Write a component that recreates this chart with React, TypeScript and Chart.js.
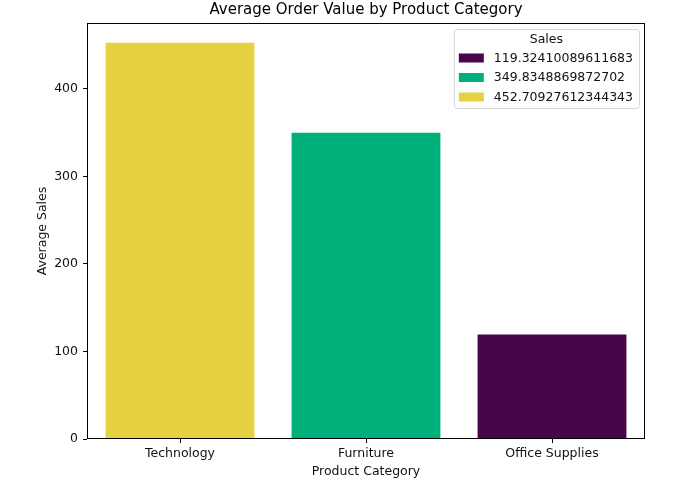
import React, { useEffect, useRef } from "react";
import { Chart, registerables } from "chart.js";

Chart.register(...registerables);

const categories = ["Technology", "Furniture", "Office Supplies"];
const averageSales = [452.70927612344343, 349.8348869872702, 119.32410089611683];
const barColors = ["#e6d141", "#00b07a", "#450747"];
const legendTitle = "Sales";
const yTickValues = [0, 100, 200, 300, 400];
const yMax = 475.3;

const FONT = "'DejaVu Sans', sans-serif";
const FS = 12.5;

const frameLegendPlugin = {
  id: "frameLegend",
  afterDraw(chart: any) {
    const { ctx, chartArea: a } = chart;
    ctx.save();
    // axes frame
    ctx.strokeStyle = "#000";
    ctx.lineWidth = 1;
    const l = Math.round(a.left) + 0.5;
    const t = Math.round(a.top) + 0.5;
    const r = Math.round(a.right) - 0.5;
    const b = Math.round(a.bottom) - 0.5;
    ctx.strokeRect(l, t, r - l, b - t);

    // legend
    const order = averageSales.map((_, i) => i).sort((p, q) => averageSales[p] - averageSales[q]);
    ctx.font = `${FS}px ${FONT}`;
    const labels = order.map((i) => String(averageSales[i]));
    const maxW = Math.max(...labels.map((s) => ctx.measureText(s).width));
    const w = 40 + maxW + 6;
    const h = 79;
    const right = a.right - 6;
    const left = right - w;
    const top = a.top + 6;
    ctx.beginPath();
    (ctx as any).roundRect(left + 0.5, top + 0.5, w, h, 3);
    ctx.fillStyle = "rgba(255,255,255,0.85)";
    ctx.fill();
    ctx.strokeStyle = "#d6d6d6";
    ctx.lineWidth = 1;
    ctx.stroke();

    ctx.fillStyle = "#111";
    ctx.textBaseline = "middle";
    ctx.textAlign = "center";
    ctx.fillText(legendTitle, left + w / 2, top + 11);
    ctx.textAlign = "left";
    order.forEach((idx, k) => {
      const cy = top + 29 + k * 19.5;
      ctx.fillStyle = barColors[idx];
      ctx.fillRect(left + 5, cy - 4.5, 25, 9);
      ctx.fillStyle = "#111";
      ctx.fillText(labels[k], left + 40, cy + 0.5);
    });
    ctx.restore();
  },
};

export default function App() {
  const ref = useRef<HTMLCanvasElement | null>(null);

  useEffect(() => {
    document.body.style.margin = "0";
    if (!ref.current) return;
    Chart.defaults.font.family = FONT;
    Chart.defaults.color = "#111";
    const chart = new Chart(ref.current, {
      type: "bar",
      data: {
        labels: categories,
        datasets: [
          {
            label: legendTitle,
            data: averageSales,
            backgroundColor: barColors,
            borderWidth: 0,
            categoryPercentage: 0.8,
            barPercentage: 1.0,
          },
        ],
      },
      options: {
        responsive: false,
        animation: false,
        devicePixelRatio: 1,
        layout: { padding: { left: 0, right: 47, top: 0, bottom: 0 } },
        plugins: {
          legend: { display: false },
          tooltip: { enabled: false },
          title: {
            display: true,
            text: "Average Order Value by Product Category",
            font: { size: 15, weight: "normal" },
            color: "#000",
            padding: { top: 1, bottom: 4 },
            fullSize: false,
          },
        },
        scales: {
          x: {
            type: "category",
            offset: true,
            grid: {
              display: true,
              offset: false,
              drawOnChartArea: false,
              drawTicks: true,
              tickLength: 4,
              tickColor: "#000",
              color: "#000",
            },
            border: { display: false },
            ticks: { font: { size: FS }, padding: 3, color: "#111", maxRotation: 0 },
            title: {
              display: true,
              text: "Product Category",
              font: { size: FS },
              color: "#111",
              padding: { top: 0, bottom: 11 },
            },
            afterFit: (scale: any) => {
              scale.height = 51;
            },
          },
          y: {
            type: "linear",
            min: 0,
            max: yMax,
            grid: {
              display: true,
              drawOnChartArea: false,
              drawTicks: true,
              tickLength: 4,
              tickColor: "#000",
              color: "#000",
            },
            border: { display: false },
            ticks: { stepSize: 100, font: { size: FS }, padding: 5, color: "#111" },
            afterBuildTicks: (scale: any) => {
              scale.ticks = yTickValues.map((v) => ({ value: v }));
            },
            title: {
              display: true,
              text: "Average Sales",
              font: { size: FS },
              color: "#111",
              padding: { top: 35, bottom: 0 },
            },
            afterFit: (scale: any) => {
              scale.width = 87;
            },
          },
        },
      },
      plugins: [frameLegendPlugin],
    } as any);
    return () => chart.destroy();
  }, []);

  return (
    <div style={{ width: 692, height: 490 }}>
      <canvas ref={ref} width={692} height={490} style={{ display: "block" }} />
    </div>
  );
}
